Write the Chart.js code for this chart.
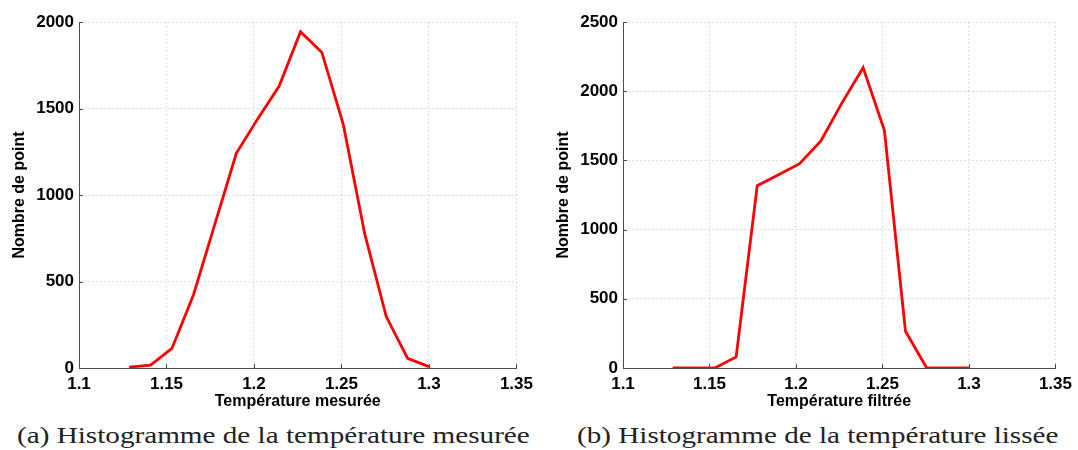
<!DOCTYPE html>
<html>
<head>
<meta charset="utf-8">
<script src="https://cdn.jsdelivr.net/npm/chart.js@4.4.1/dist/chart.umd.min.js"></script>
<style>
  body { margin: 0; background: #fff; }
  .wrap { position: absolute; top: 0; }
  .cap {
    position: absolute; top: 423px; white-space: nowrap;
    font-family: "Liberation Serif", "Times New Roman", Times, serif; font-size: 24px; line-height: 24px;
    color: #222; transform-origin: 0 0;
  }
</style>
</head>
<body>
<div class="wrap" style="left:0;width:539px;height:420px"><canvas id="chartA"></canvas></div>
<div class="wrap" style="left:540px;width:538px;height:420px"><canvas id="chartB"></canvas></div>
<div class="cap" id="capA" style="left:17px" data-w="513">(a) Histogramme de la température mesurée</div>
<div class="cap" id="capB" style="left:577px" data-w="482">(b) Histogramme de la température lissée</div>
<script>
// bin centres (temperature)
var temps = [1.1287, 1.1409, 1.1531, 1.1654, 1.1776, 1.1899, 1.2021, 1.2144,
             1.2266, 1.2388, 1.2511, 1.2633, 1.2756, 1.2878, 1.3000];
// counts
var countsMesuree = [5, 17, 113, 422, 830, 1241, 1440, 1630, 1944, 1824, 1405, 775, 297, 56, 8];
var countsFiltree = [0, 0, 0, 80, 1317, 1397, 1476, 1640, 1916, 2170, 1717, 266, 0, 0, 0];
var xTicks = [1.1, 1.15, 1.2, 1.25, 1.3, 1.35];

var axisColor = '#4d4d4d';
var gridColor = 'rgba(0,0,0,0.13)';
var sans = '"Liberation Sans", Arial, Helvetica, sans-serif';

// small inward tick marks, matlab style
var innerTicks = {
  id: 'innerTicks',
  afterDraw: function (chart) {
    var c = chart.ctx, a = chart.chartArea;
    c.save();
    c.strokeStyle = axisColor;
    c.lineWidth = 1;
    c.beginPath();
    chart.scales.x.ticks.forEach(function (t) {
      var px = Math.round(chart.scales.x.getPixelForValue(t.value)) + 0.5;
      c.moveTo(px, a.bottom); c.lineTo(px, a.bottom - 4);
    });
    chart.scales.y.ticks.forEach(function (t) {
      var py = Math.round(chart.scales.y.getPixelForValue(t.value)) + 0.5;
      c.moveTo(a.left, py); c.lineTo(a.left + 4, py);
    });
    c.stroke();
    c.restore();
  }
};

function makeChart(id, values, xTitle, yMax, yWidth, padRight, yTitlePad) {
  var pts = temps.map(function (t, i) { return { x: t, y: values[i] }; });
  return new Chart(document.getElementById(id), {
    type: 'line',
    data: {
      datasets: [{
        data: pts,
        borderColor: '#ff0000',
        borderWidth: 2.8,
        pointRadius: 0,
        tension: 0,
        fill: false
      }]
    },
    options: {
      responsive: true,
      maintainAspectRatio: false,
      animation: false,
      layout: { padding: { top: 22, right: padRight, bottom: 0, left: 0 } },
      plugins: { legend: { display: false }, tooltip: { enabled: false } },
      scales: {
        x: {
          type: 'linear',
          min: 1.1, max: 1.35,
          afterBuildTicks: function (s) { s.ticks = xTicks.map(function (v) { return { value: v }; }); },
          afterFit: function (s) { s.height = 52; },
          ticks: {
            padding: 6,
            color: '#000',
            font: { family: sans, size: 17, weight: 'bold' },
            callback: function (v) { return String(+v.toFixed(2)); }
          },
          grid: { color: gridColor, drawTicks: false },
          border: { display: true, color: axisColor, width: 1, dash: [2, 2] },
          title: {
            display: true, text: xTitle, color: '#000',
            font: { family: sans, size: 16, weight: 'bold' },
            padding: { top: 0, bottom: 9 }
          }
        },
        y: {
          min: 0, max: yMax,
          afterFit: function (s) { s.width = yWidth; },
          ticks: {
            stepSize: 500,
            padding: 5,
            color: '#000',
            font: { family: sans, size: 17, weight: 'bold' },
            callback: function (v) { return String(v); }
          },
          grid: { color: gridColor, drawTicks: false },
          border: { display: true, color: axisColor, width: 1, dash: [2, 2] },
          title: {
            display: true, text: 'Nombre de point', color: '#000',
            font: { family: sans, size: 16, weight: 'bold' },
            padding: { top: yTitlePad, bottom: 0 }
          }
        }
      }
    },
    plugins: [innerTicks]
  });
}

function draw() {
  makeChart('chartA', countsMesuree, 'Température mesurée', 2000, 79, 22, 10);
  makeChart('chartB', countsFiltree, 'Température filtrée', 2500, 83, 16, 14);

  // stretch captions to the reference width
  ['capA', 'capB'].forEach(function (id) {
    var el = document.getElementById(id);
    var w = +el.getAttribute('data-w');
    el.style.transform = 'scaleX(' + (w / el.offsetWidth) + ')';
  });
}

Promise.all([
  document.fonts.load('bold 17px "Liberation Sans"'),
  document.fonts.load('24px "Liberation Serif"')
]).then(draw, draw);
</script>
</body>
</html>
